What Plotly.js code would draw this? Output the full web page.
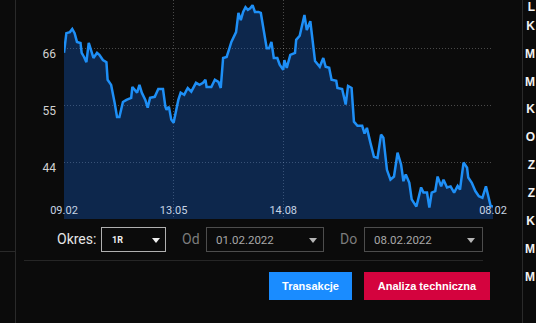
<!DOCTYPE html>
<html>
<head>
<meta charset="utf-8">
<script src="https://cdn.plot.ly/plotly-3.0.1.min.js"></script>
<style>
html,body{margin:0;padding:0;background:#0b0b0b;width:536px;height:332px;overflow:hidden;}
#wrap{position:relative;width:536px;height:332px;overflow:hidden;font-family:Roboto,"Noto Sans",sans-serif;}
#chart{position:absolute;left:0;top:0;width:536px;height:226px;}
.ln{position:absolute;background:#2a2a2a;}
.txt{position:absolute;white-space:nowrap;line-height:1;}
.box{position:absolute;box-sizing:border-box;border:1px solid #4d4d4d;background:#0b0b0b;height:25px;top:227px;}
.chev{position:absolute;width:0;height:0;border-left:4px solid transparent;border-right:4px solid transparent;border-top:5px solid #b5b5b5;top:10px;}
.btn{position:absolute;top:272px;height:28px;color:#fff;font-family:"Liberation Sans",Arial,sans-serif;font-weight:bold;font-size:11px;line-height:28px;text-align:center;}
.side{position:absolute;right:1px;color:#f2f2f2;font-family:"Liberation Sans",Arial,sans-serif;font-weight:bold;font-size:12px;line-height:1;white-space:nowrap;}
</style>
</head>
<body>
<div id="wrap">
  <div id="chart"></div>
  <div class="ln" style="left:15px;top:0;width:1px;height:323px;"></div>
  <div class="ln" style="left:0;top:251px;width:16px;height:1px;"></div>
  <div class="ln" style="left:522px;top:0;width:1px;height:323px;"></div>
  <div class="ln" style="left:24px;top:260px;width:459px;height:1px;background:#262626;"></div>

  <div class="txt" style="left:57px;top:232px;font-size:14px;color:#e6e6e6;">Okres:</div>
  <div class="box" style="left:101px;width:65px;border-color:#b0b0b0;">
    <div class="txt" style="left:10px;top:8px;font-size:9px;font-weight:bold;color:#f0f0f0;">1R</div>
    <div class="chev" style="left:50px;border-top-color:#f0f0f0;"></div>
  </div>
  <div class="txt" style="left:182px;top:232px;font-size:14px;color:#7c7c7c;">Od</div>
  <div class="box" style="left:206px;width:118px;">
    <div class="txt" style="left:9px;top:7px;font-size:11.5px;color:#a8a8a8;">01.02.2022</div>
    <div class="chev" style="left:102px;"></div>
  </div>
  <div class="txt" style="left:340px;top:232px;font-size:14px;color:#7c7c7c;">Do</div>
  <div class="box" style="left:364px;width:119px;">
    <div class="txt" style="left:9px;top:7px;font-size:11.5px;color:#a8a8a8;">08.02.2022</div>
    <div class="chev" style="left:102px;"></div>
  </div>

  <div class="btn" style="left:269px;width:83px;background:#1a8cff;">Transakcje</div>
  <div class="btn" style="left:364px;width:126px;background:#d4033e;">Analiza techniczna</div>

  <div class="side" style="top:1px;">L</div>
  <div class="side" style="top:20px;">K</div>
  <div class="side" style="top:48px;">M</div>
  <div class="side" style="top:76px;">M</div>
  <div class="side" style="top:103px;">K</div>
  <div class="side" style="top:131px;">O</div>
  <div class="side" style="top:159px;">Z</div>
  <div class="side" style="top:187px;">Z</div>
  <div class="side" style="top:215px;">K</div>
  <div class="side" style="top:243px;">M</div>
  <div class="side" style="top:271px;">M</div>

  <div style="position:absolute;left:0;top:323px;width:536px;height:9px;background:#ffffff;"></div>
</div>
<script>
const dates = [
 "2021-02-09","2021-02-11","2021-02-14","2021-02-16","2021-02-18","2021-02-20","2021-02-23","2021-02-24","2021-02-26","2021-02-28",
 "2021-03-02","2021-03-04","2021-03-06","2021-03-09","2021-03-11","2021-03-14","2021-03-17","2021-03-18","2021-03-21","2021-03-24",
 "2021-03-26","2021-03-28","2021-03-31","2021-04-03","2021-04-07","2021-04-08","2021-04-12","2021-04-14","2021-04-16","2021-04-19",
 "2021-04-21","2021-04-23","2021-04-27","2021-04-30","2021-05-04","2021-05-06","2021-05-07","2021-05-09","2021-05-11","2021-05-13",
 "2021-05-15","2021-05-17","2021-05-19","2021-05-22","2021-05-24","2021-05-25","2021-05-28","2021-05-30","2021-06-01","2021-06-04",
 "2021-06-07","2021-06-09","2021-06-10","2021-06-14","2021-06-17","2021-06-20","2021-06-22","2021-06-24","2021-06-27","2021-06-29",
 "2021-07-01","2021-07-05","2021-07-07","2021-07-09","2021-07-11","2021-07-13","2021-07-15","2021-07-17","2021-07-19","2021-07-21",
 "2021-07-24","2021-07-26","2021-07-29","2021-07-31","2021-08-02","2021-08-04","2021-08-06","2021-08-09","2021-08-11","2021-08-14",
 "2021-08-15","2021-08-17","2021-08-20","2021-08-24","2021-08-25","2021-08-28","2021-09-01","2021-09-03","2021-09-06","2021-09-10",
 "2021-09-14","2021-09-17","2021-09-19","2021-09-22","2021-09-24","2021-09-28","2021-09-29","2021-10-03","2021-10-06","2021-10-08",
 "2021-10-11","2021-10-13","2021-10-16","2021-10-20","2021-10-22","2021-10-24","2021-10-27","2021-10-30","2021-11-02","2021-11-05",
 "2021-11-07","2021-11-10","2021-11-13","2021-11-16","2021-11-19","2021-11-22","2021-11-24","2021-11-26","2021-11-29","2021-12-01",
 "2021-12-05","2021-12-09","2021-12-11","2021-12-14","2021-12-16","2021-12-18","2021-12-21","2021-12-23","2021-12-26","2021-12-28",
 "2021-12-31","2022-01-03","2022-01-06","2022-01-09","2022-01-11","2022-01-14","2022-01-17","2022-01-18","2022-01-21","2022-01-24",
 "2022-01-27","2022-01-30","2022-02-02","2022-02-04","2022-02-06","2022-02-08"
];
const prices = [
 65.1,68.9,69.1,69.7,68.9,67.2,67.0,65.1,64.3,63.3,
 67.0,65.7,64.1,65.1,64.7,63.7,63.3,59.9,58.9,55.4,
 52.7,52.7,55.6,56.0,56.4,58.5,57.4,58.9,57.4,56.0,
 54.5,56.4,56.6,58.1,58.1,54.7,54.1,54.7,52.2,51.6,
 53.7,56.0,57.4,57.0,57.9,58.3,57.6,58.5,59.3,58.9,
 59.3,59.9,58.5,58.5,59.9,59.5,58.3,64.1,64.3,65.7,
 67.2,69.1,72.8,71.4,73.0,73.9,73.4,73.7,74.3,73.0,
 73.0,72.8,68.9,66.0,66.0,67.2,64.1,64.1,62.8,61.8,
 63.7,62.2,64.7,65.1,67.6,68.4,72.4,69.5,71.2,63.5,
 62.4,64.1,62.4,62.2,59.9,59.7,58.3,58.1,55.1,58.7,
 58.3,51.8,51.0,51.0,49.5,50.6,47.7,45.0,44.8,49.3,
 48.7,42.5,40.6,41.2,45.8,43.5,40.3,41.6,40.0,36.8,
 35.4,39.1,38.1,38.1,35.2,38.1,38.4,41.2,39.3,40.6,
 39.1,39.3,38.1,39.4,38.7,43.9,42.9,41.0,40.0,38.4,
 37.4,37.1,39.3,37.1,35.5,35.4
];
const xTickVals = ["2021-02-09","2021-05-13","2021-08-14","2022-02-08"];
const xTickText = ["09.02","13.05","14.08","08.02"];
const yTickVals = [44,55,66];
const yTickText = ["44","55","66"];

Plotly.newPlot("chart", [{
  x: dates, y: prices, type: "scatter", mode: "lines",
  line: {color: "#1e8ff6", width: 2.5},
  fill: "tozeroy", fillcolor: "rgba(18,100,215,0.32)",
  hoverinfo: "skip"
}], {
  width: 536, height: 226,
  margin: {l: 64, r: 43, t: 0, b: 7},
  paper_bgcolor: "rgba(0,0,0,0)", plot_bgcolor: "rgba(0,0,0,0)",
  showlegend: false,
  font: {family: "Roboto, sans-serif"},
  xaxis: {
    type: "date", range: ["2021-02-09","2022-02-08"],
    tickvals: xTickVals, ticktext: xTickText,
    showgrid: true, gridcolor: "rgba(255,255,255,0.26)", griddash: "1px,2px", gridwidth: 1,
    zeroline: false, showline: false, ticks: "",
    ticklabelposition: "inside", ticklabeloverflow: "allow",
    tickfont: {size: 11, color: "#c6d4e4"}, automargin: false, fixedrange: true
  },
  yaxis: {
    range: [33, 75.3],
    tickvals: yTickVals, ticktext: yTickText,
    showgrid: true, gridcolor: "rgba(255,255,255,0.26)", griddash: "1px,2px", gridwidth: 1,
    zeroline: false, showline: false, ticks: "",
    ticklabelshift: 6, ticklabelstandoff: 7,
    tickfont: {size: 12, color: "#d2d2d2"}, automargin: false, fixedrange: true
  }
}, {displayModeBar: false, staticPlot: true});
</script>
</body>
</html>
